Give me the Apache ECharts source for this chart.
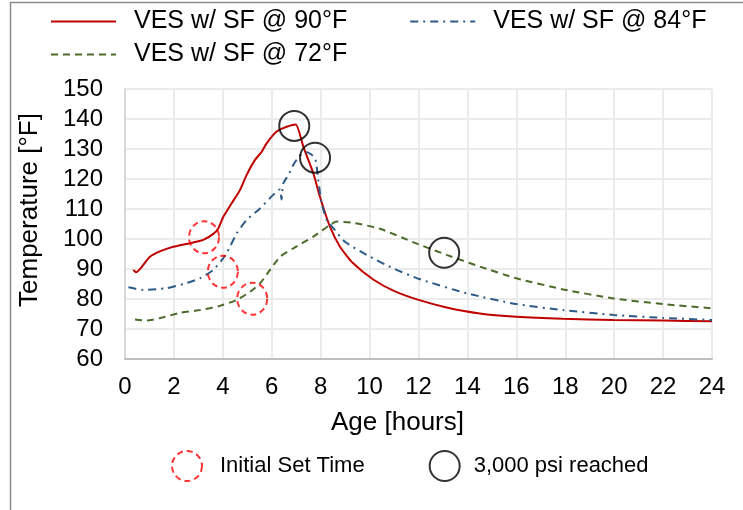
<!DOCTYPE html>
<html>
<head>
<meta charset="utf-8">
<script src="https://cdn.jsdelivr.net/npm/echarts@6/dist/echarts.min.js"></script>
<style>
  html, body { margin: 0; padding: 0; background: #fff; }
  #chart { width: 743px; height: 510px; }
</style>
</head>
<body>
<div id="chart"></div>
<script>
// Temperature history of three VES mixes with SF, hours after casting
var ves90 = [
  [0.34, 89.7], [0.45, 88.9], [1.02, 94.1], [1.5, 96.1], [1.98, 97.4], [2.66, 98.6],
  [3.2, 99.7], [3.61, 101.7], [3.82, 103.6], [4.02, 107.4], [4.36, 111.9], [4.7, 116.3],
  [4.97, 121.3], [5.31, 126.3], [5.59, 129.1], [5.79, 131.9], [6.2, 135.8], [6.61, 137.4],
  [6.98, 138.2], [7.29, 130.8], [7.7, 121.9], [7.97, 114.1], [8.38, 104.1], [8.79, 97.4],
  [9.33, 91.9], [10.15, 86.5], [10.97, 82.8], [12.0, 79.7], [13.15, 77.2], [14.5, 75.2],
  [16.0, 74.1], [17.9, 73.4], [19.96, 73.0], [22.0, 72.8], [24.0, 72.6]
];
var ves84 = [
  [0.14, 83.9], [0.75, 83.0], [1.7, 83.6], [2.38, 85.0], [3.07, 86.9], [3.61, 89.7],
  [4.02, 93.6], [4.29, 97.4], [4.57, 101.9], [4.97, 106.3], [5.52, 110.2], [6.06, 114.7],
  [6.33, 116.5], [6.4, 113.2], [6.47, 118.5], [6.68, 121.3], [6.88, 124.7], [7.15, 127.8],
  [7.43, 128.9], [7.77, 126.9], [7.9, 119.7], [8.04, 111.9], [8.25, 106.3], [8.52, 103.6],
  [8.99, 99.1], [9.88, 94.7], [10.97, 90.2], [12.06, 86.6], [13.97, 81.9], [16.0, 78.3],
  [17.92, 76.3], [19.97, 74.7], [22.0, 73.7], [24.0, 73.0]
];
var ves72 = [
  [0.41, 73.2], [0.89, 72.8], [1.57, 73.9], [2.25, 75.4], [3.07, 76.3], [3.88, 77.7],
  [4.57, 79.7], [5.11, 82.4], [5.52, 85.2], [5.93, 89.7], [6.34, 94.1], [6.88, 96.9],
  [7.7, 100.8], [8.38, 104.7], [8.65, 105.8], [9.33, 105.4], [10.43, 103.4], [11.85, 98.7],
  [13.15, 94.7], [14.51, 90.8], [16.0, 86.9], [17.92, 83.2], [19.97, 80.2], [22.0, 78.3],
  [24.0, 76.9]
];
// Initial set time for each mix (red dashed rings)
var initialSet = [[3.23, 100.6], [4.0, 89.1], [5.2, 80.1]];
// Time at which 3,000 psi strength was reached (black rings)
var psiReached = [[6.92, 137.7], [7.77, 127.1], [13.05, 95.4]];

var xTicks = { min: 0, max: 24, step: 2 };
var yTicks = { min: 60, max: 150, step: 10 };

var FONT = 'Liberation Sans';
var chart = echarts.init(document.getElementById('chart'));

var topLegendText = { fontFamily: FONT, fontSize: 25, color: '#000', padding: [0, 0, 0, 13] };

chart.setOption({
  backgroundColor: '#ffffff',
  animation: false,
  graphic: [{
    type: 'rect',
    shape: { x: 10.5, y: 2.5, width: 800, height: 600 },
    style: { fill: 'none', stroke: '#8c8c8c', lineWidth: 1.5 },
    silent: true
  }],
  grid: { left: 125, right: 31, top: 89, bottom: 151, containLabel: false },
  legend: [
    {
      data: ['VES w/ SF @ 90°F', 'VES w/ SF @ 84°F'],
      left: 50, top: 9, padding: 0, itemWidth: 65, itemHeight: 14, itemGap: 62,
      itemStyle: { opacity: 0 },
      textStyle: topLegendText
    },
    {
      data: ['VES w/ SF @ 72°F'],
      left: 50, top: 42, padding: 0, itemWidth: 65, itemHeight: 14,
      itemStyle: { opacity: 0 },
      textStyle: topLegendText
    },
    {
      data: [
        { name: 'Initial Set Time', icon: 'circle',
          itemStyle: { color: 'rgba(0,0,0,0)', borderColor: '#ff0000', borderWidth: 2, borderType: [6, 4] },
          textStyle: { padding: [0, 0, 0, 13] } },
        { name: '3,000 psi reached', icon: 'circle',
          itemStyle: { color: 'rgba(0,0,0,0)', borderColor: '#000000', borderWidth: 2 },
          textStyle: { padding: [0, 0, 0, 9] } }
      ],
      left: 171, top: 450, padding: 0, itemWidth: 30, itemHeight: 32, itemGap: 64,
      textStyle: { fontFamily: FONT, fontSize: 22, color: '#000' }
    }
  ],
  xAxis: {
    type: 'value',
    min: xTicks.min, max: xTicks.max, interval: xTicks.step,
    name: 'Age [hours]', nameLocation: 'middle', nameGap: 51,
    nameTextStyle: { fontFamily: FONT, fontSize: 26, color: '#000', padding: [0, 42, 0, 0] },
    axisLine: { show: true, lineStyle: { color: '#bfbfbf', width: 2 } },
    axisTick: { show: false },
    axisLabel: { fontFamily: FONT, fontSize: 24, color: '#000', margin: 16 },
    splitLine: { show: true, lineStyle: { color: '#ebebeb', width: 2 } }
  },
  yAxis: {
    type: 'value',
    min: yTicks.min, max: yTicks.max, interval: yTicks.step,
    name: 'Temperature [°F]', nameLocation: 'middle', nameGap: 82, nameRotate: 90,
    nameTextStyle: { fontFamily: FONT, fontSize: 26, color: '#000', padding: [0, 0, 0, 28] },
    axisLine: { show: true, lineStyle: { color: '#d9d9d9', width: 2 } },
    axisTick: { show: false },
    axisLabel: { fontFamily: FONT, fontSize: 24, color: '#000', margin: 22 },
    splitLine: { show: true, lineStyle: { color: '#ebebeb', width: 2 } }
  },
  series: [
    {
      name: 'VES w/ SF @ 90°F', type: 'line', data: ves90,
      symbol: 'none', smooth: 0.2,
      lineStyle: { color: '#c00000', width: 2 }, itemStyle: { color: '#c00000' }
    },
    {
      name: 'VES w/ SF @ 84°F', type: 'line', data: ves84,
      symbol: 'none', smooth: 0.2,
      lineStyle: { color: '#2e5a87', width: 2, type: [8, 5, 2, 5] }, itemStyle: { color: '#2e5a87' }
    },
    {
      name: 'VES w/ SF @ 72°F', type: 'line', data: ves72,
      symbol: 'none', smooth: 0.2,
      lineStyle: { color: '#4a6b2a', width: 2, type: [7, 5] }, itemStyle: { color: '#4a6b2a' }
    },
    {
      name: 'Initial Set Time', type: 'scatter', data: initialSet,
      symbol: 'circle', symbolSize: [30, 32], z: 5,
      itemStyle: { color: 'rgba(0,0,0,0)', borderColor: '#ff0000', borderWidth: 2, borderType: [6, 4] }
    },
    {
      name: '3,000 psi reached', type: 'scatter', data: psiReached,
      symbol: 'circle', symbolSize: 30, z: 5,
      itemStyle: { color: 'rgba(0,0,0,0)', borderColor: '#000000', borderWidth: 2 }
    }
  ]
});
</script>
</body>
</html>
